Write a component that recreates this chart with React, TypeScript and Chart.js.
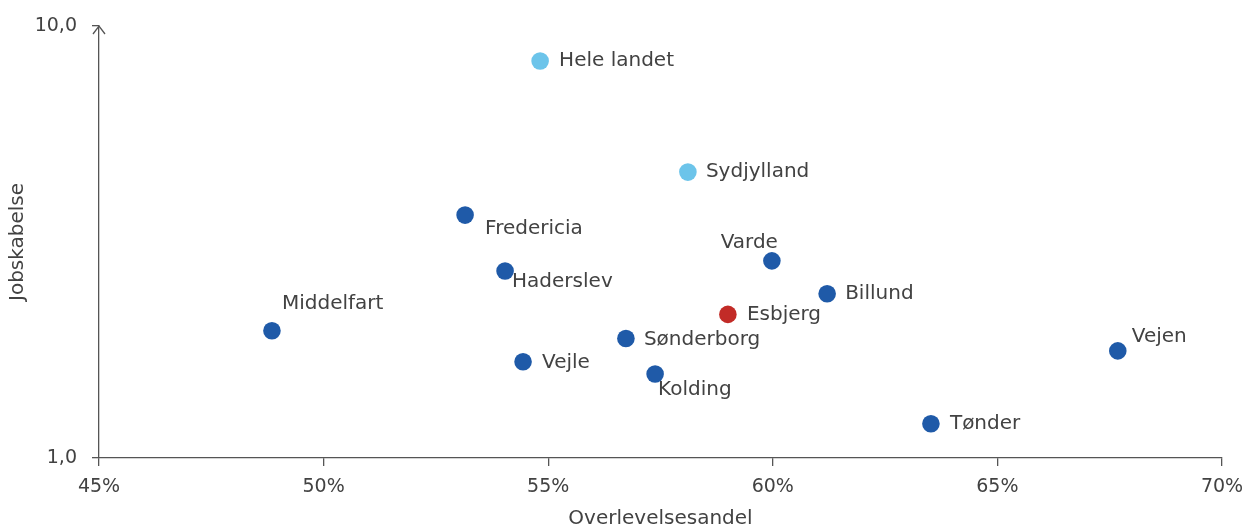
import React, { useEffect, useRef } from "react";
import { Chart, registerables } from "chart.js";

Chart.register(...registerables);

const names = [
  "Hele landet",
  "Sydjylland",
  "Fredericia",
  "Haderslev",
  "Varde",
  "Billund",
  "Esbjerg",
  "Middelfart",
  "Sønderborg",
  "Vejen",
  "Vejle",
  "Kolding",
  "Tønder",
];
// Overlevelsesandel (%)
const survivalShare = [54.82, 58.11, 53.15, 54.04, 59.98, 61.21, 59.0, 48.85, 56.73, 67.68, 54.44, 57.38, 63.52];
// Jobskabelse
const jobCreation = [8.3, 4.59, 3.65, 2.71, 2.86, 2.4, 2.15, 1.97, 1.89, 1.77, 1.67, 1.565, 1.2];
// group of each point
const groups = ["ref", "ref", "kom", "kom", "kom", "kom", "focus", "kom", "kom", "kom", "kom", "kom", "kom"];

const xTicks = [45, 50, 55, 60, 65, 70];
const yTicks = [1, 10];

const groupColors: Record<string, string> = {
  ref: "#6CC4EA",
  kom: "#1F5AA8",
  focus: "#C22B27",
};

// label placement relative to point (style)
const labelPlacement: Record<string, { dx: number; dy: number; align: CanvasTextAlign }> = {
  "Hele landet": { dx: 19, dy: 0, align: "left" },
  Sydjylland: { dx: 18, dy: 0, align: "left" },
  Fredericia: { dx: 20, dy: 14, align: "left" },
  Haderslev: { dx: 7, dy: 11, align: "left" },
  Varde: { dx: 6, dy: -18, align: "right" },
  Billund: { dx: 18, dy: 0, align: "left" },
  Esbjerg: { dx: 19, dy: 0, align: "left" },
  Middelfart: { dx: 10, dy: -27, align: "left" },
  Sønderborg: { dx: 18, dy: 1, align: "left" },
  Vejen: { dx: 14, dy: -14, align: "left" },
  Vejle: { dx: 19, dy: 1, align: "left" },
  Kolding: { dx: 3, dy: 16, align: "left" },
  Tønder: { dx: 19, dy: 0, align: "left" },
};

const FONT = '"DejaVu Sans", sans-serif';
const TEXT = "#424242";
const AXIS = "#555555";

const labelPlugin = {
  id: "pointLabels",
  afterDatasetsDraw(chart: any) {
    const ctx = chart.ctx;
    const meta = chart.getDatasetMeta(0);
    ctx.save();
    ctx.font = `20px ${FONT}`;
    ctx.fillStyle = TEXT;
    ctx.textBaseline = "middle";
    meta.data.forEach((el: any, i: number) => {
      const p = labelPlacement[names[i]];
      ctx.textAlign = p.align;
      ctx.fillText(names[i], el.x + p.dx, el.y + p.dy);
    });
    ctx.restore();
  },
};

const arrowPlugin = {
  id: "yArrow",
  afterDraw(chart: any) {
    const { ctx, chartArea } = chart;
    const x = chartArea.left;
    const y = chartArea.top;
    ctx.save();
    ctx.strokeStyle = AXIS;
    ctx.lineWidth = 1.3;
    ctx.beginPath();
    ctx.moveTo(x - 6, y + 8);
    ctx.lineTo(x, y);
    ctx.lineTo(x + 6, y + 8);
    ctx.stroke();
    ctx.restore();
  },
};

export default function App() {
  const ref = useRef<HTMLCanvasElement>(null);
  useEffect(() => {
    if (!ref.current) return;
    const chart = new Chart(ref.current, {
      type: "scatter",
      data: {
        datasets: [
          {
            data: survivalShare.map((x, i) => ({ x, y: jobCreation[i] })),
            backgroundColor: groups.map((g) => groupColors[g]),
            borderWidth: 0,
            pointRadius: 8.8,
            pointHoverRadius: 8.8,
          },
        ],
      },
      options: {
        animation: false,
        responsive: true,
        maintainAspectRatio: false,
        layout: { padding: { top: 26, right: 25, left: 0, bottom: 0 } },
        plugins: { legend: { display: false }, tooltip: { enabled: false } },
        scales: {
          x: {
            type: "linear",
            min: 45,
            max: 70,
            afterBuildTicks: (s: any) => {
              s.ticks = xTicks.map((v) => ({ value: v }));
            },
            afterFit: (s: any) => {
              s.height = 70;
              s.paddingLeft = 0;
              s.paddingRight = 0;
            },
            ticks: {
              callback: (v: any) => `${v}%`,
              font: { family: FONT, size: 19 },
              color: TEXT,
              padding: 10,
              maxRotation: 0,
            },
            grid: {
              drawOnChartArea: false,
              drawTicks: true,
              tickLength: 8,
              color: AXIS,
              lineWidth: 1.3,
            },
            border: { display: true, color: AXIS, width: 1.3 },
            title: {
              display: true,
              text: "Overlevelsesandel",
              font: { family: FONT, size: 20, lineHeight: 1 },
              color: TEXT,
              padding: { top: 0, bottom: -1 },
            },
          },
          y: {
            type: "logarithmic",
            min: 1,
            max: 10,
            afterBuildTicks: (s: any) => {
              s.ticks = yTicks.map((v) => ({ value: v }));
            },
            afterFit: (s: any) => {
              s.width = 99;
              s.paddingTop = 0;
              s.paddingBottom = 0;
            },
            ticks: {
              callback: (v: any) => Number(v).toFixed(1).replace(".", ","),
              font: { family: FONT, size: 19 },
              color: TEXT,
              padding: 15,
            },
            grid: {
              drawOnChartArea: false,
              drawTicks: true,
              tickLength: 7,
              color: AXIS,
              lineWidth: 1.3,
            },
            border: { display: true, color: AXIS, width: 1.3 },
            title: {
              display: true,
              text: "Jobskabelse",
              font: { family: FONT, size: 20, lineHeight: 1 },
              color: TEXT,
              padding: { top: 8, bottom: 0 },
            },
          },
        },
      },
      plugins: [labelPlugin, arrowPlugin],
    });
    return () => chart.destroy();
  }, []);
  return (
    <div style={{ position: "fixed", left: 0, top: 0, width: 1247, height: 528 }}>
      <canvas ref={ref} />
    </div>
  );
}
